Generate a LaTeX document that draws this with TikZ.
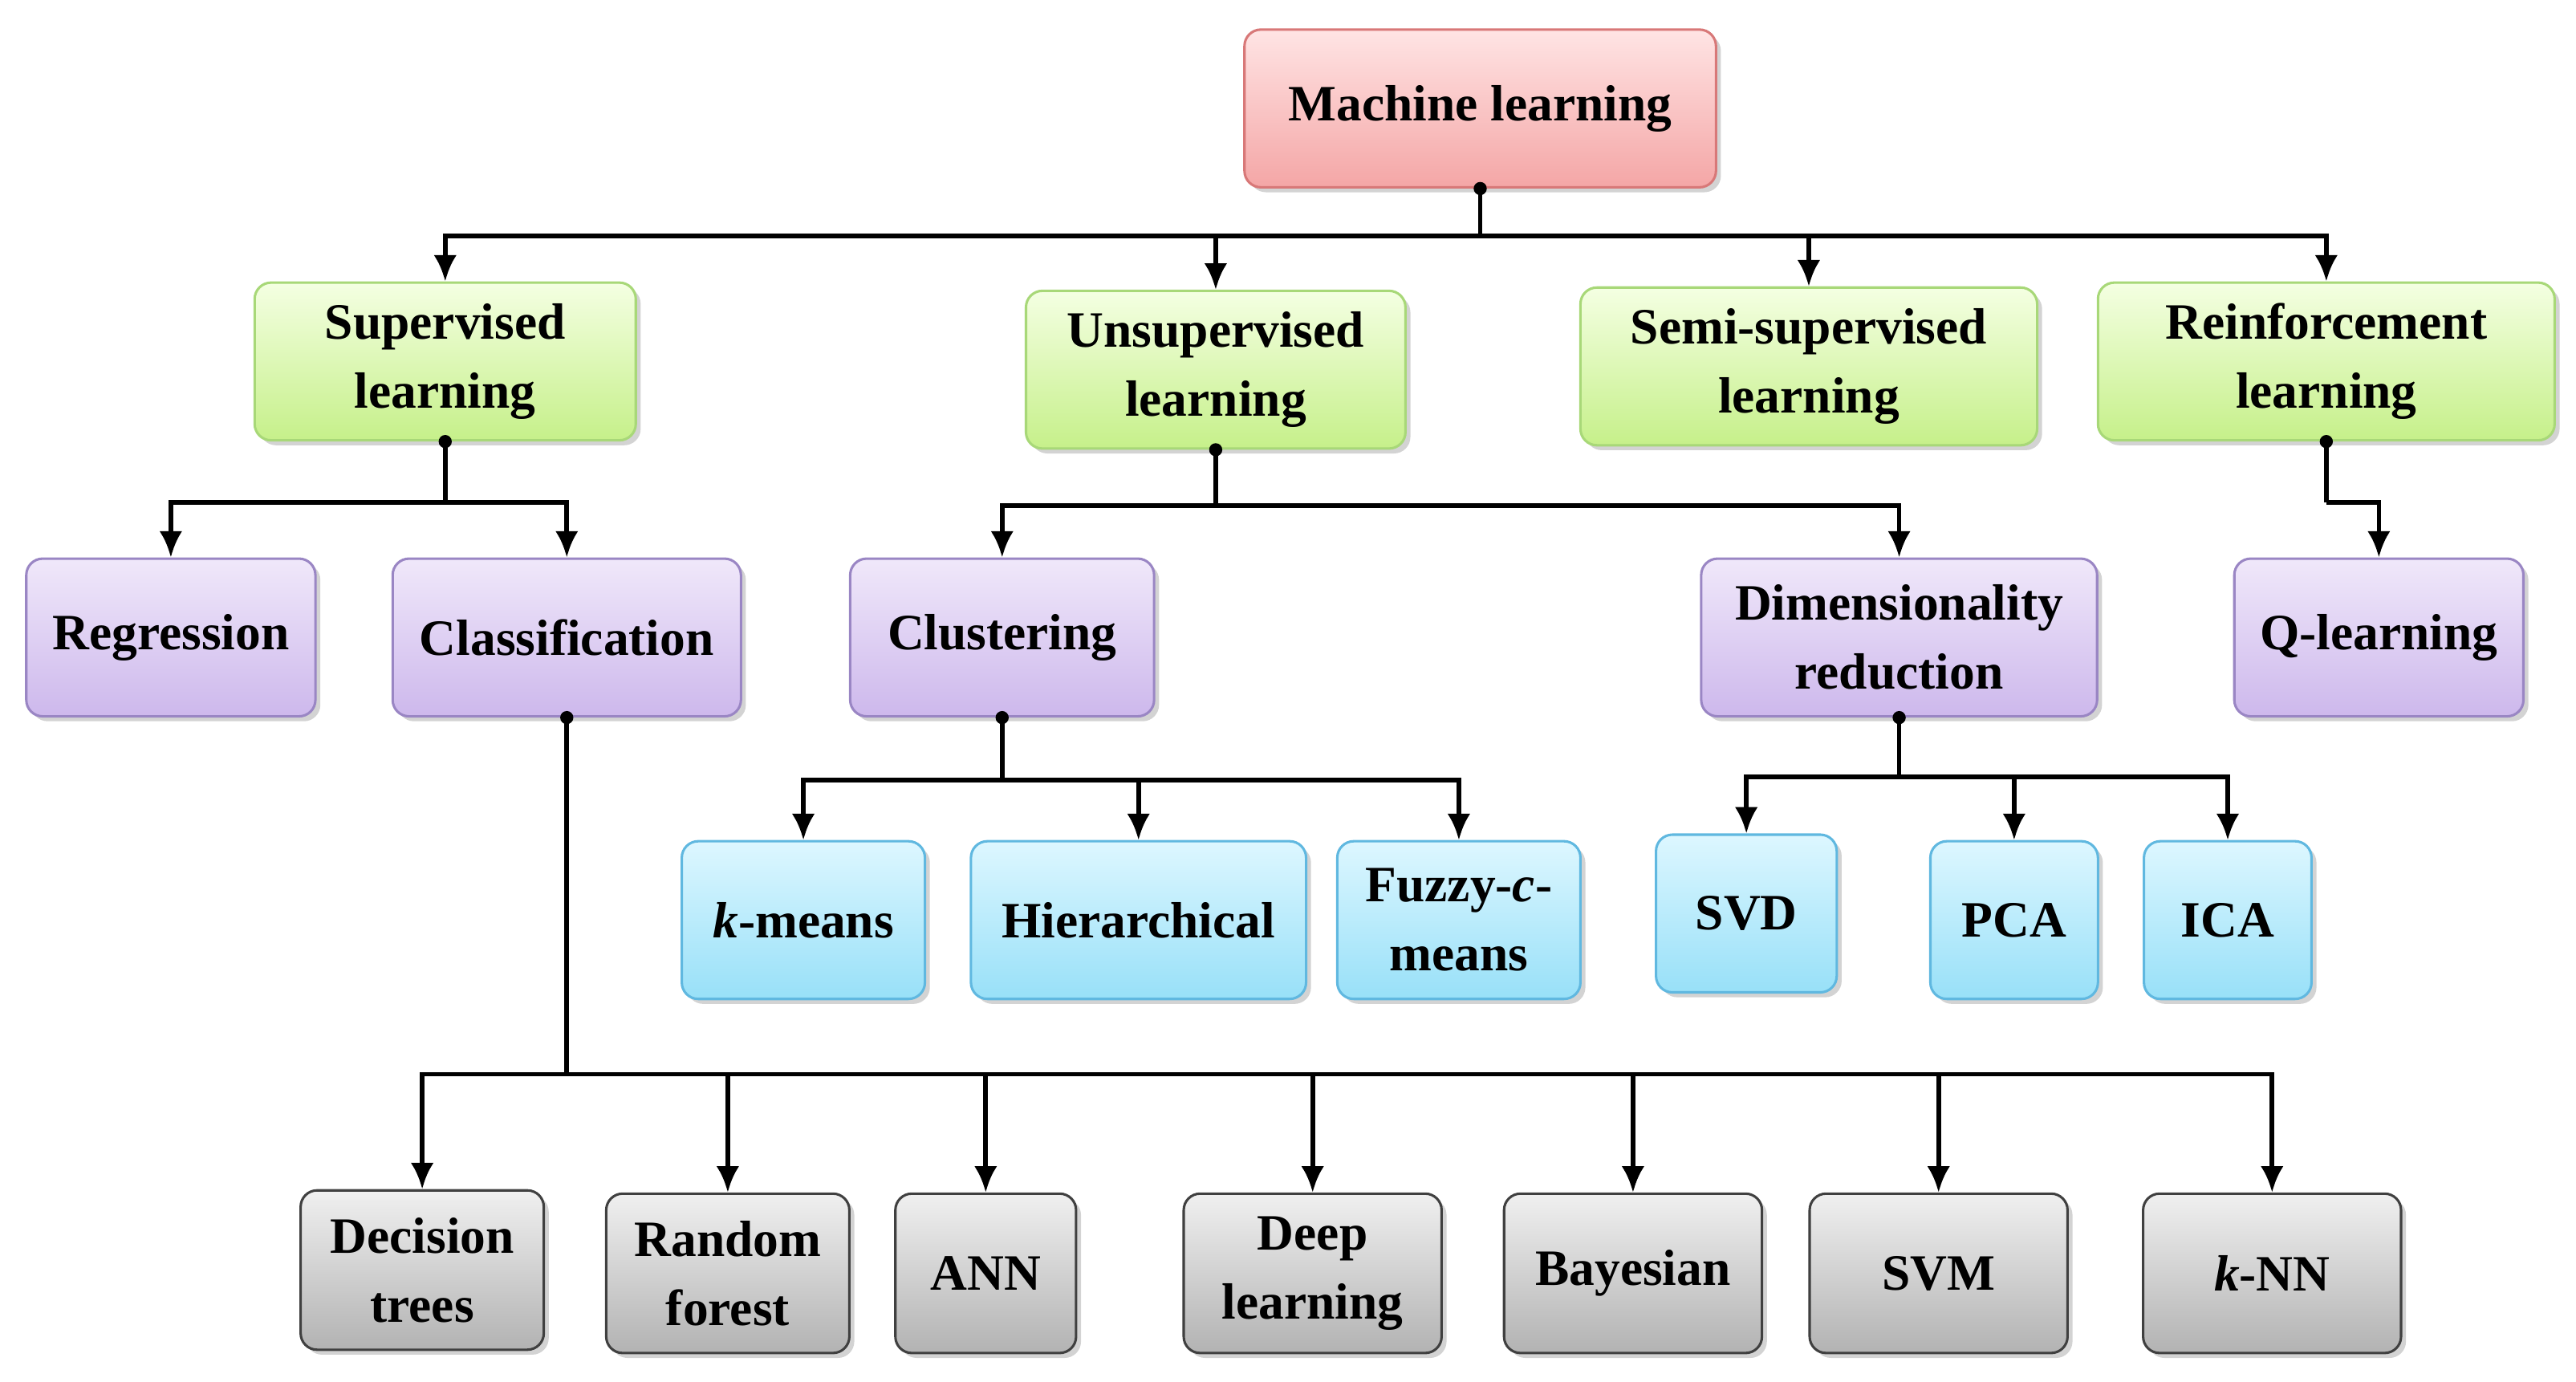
\documentclass[tikz,border=0pt]{standalone}
\usepackage{fontspec}
\setmainfont{Liberation Serif}
\usetikzlibrary{arrows.meta,shadows}
\definecolor{gtop}{HTML}{F4FFE2}\definecolor{gbot}{HTML}{C6F08A}\definecolor{gdr}{HTML}{A8D878}
\definecolor{ptop}{HTML}{F0E8FA}\definecolor{pbot}{HTML}{CDB8EC}\definecolor{pdr}{HTML}{9A86C4}
\definecolor{ctop}{HTML}{DDF7FF}\definecolor{cbot}{HTML}{98E0F8}\definecolor{cdr}{HTML}{60B8E0}
\definecolor{rtop}{HTML}{FFE4E4}\definecolor{rbot}{HTML}{F4A6A6}\definecolor{rdr}{HTML}{D87878}
\begin{document}
\begin{tikzpicture}[x=1pt,y=-1pt,
  box/.style={draw, line width=1.5pt, rounded corners=10pt, align=center,
    font=\fontsize{31}{42}\selectfont\bfseries, inner sep=2pt,
    drop shadow={shadow xshift=3pt,shadow yshift=-3pt,opacity=0.35}},
  red/.style={box, draw=rdr, top color=rtop, bottom color=rbot, minimum height=96pt},
  grn/.style={box, draw=gdr, top color=gtop, bottom color=gbot, minimum height=96pt},
  pur/.style={box, draw=pdr, top color=ptop, bottom color=pbot, minimum height=96pt},
  cya/.style={box, draw=cdr, top color=ctop, bottom color=cbot, minimum height=96pt},
  gry/.style={box, draw=black!75, top color=black!6, bottom color=black!30, minimum height=97pt},
  ln/.style={line width=2.8pt},
  arr/.style={ln, -{Latex[length=16pt,width=14pt]}},
  dot/.style={circle, fill=black, inner sep=0pt, minimum size=8pt}]
\useasboundingbox (0,0) rectangle (1568,841);
\node[red, minimum width=287pt] (ml) at (901,66) {Machine learning};
\node[grn, minimum width=232pt] (sup) at (271,220) {Supervised\\learning};
\node[grn, minimum width=231pt] (uns) at (740,225) {Unsupervised\\learning};
\node[grn, minimum width=278pt] (semi) at (1101,223) {Semi-supervised\\learning};
\node[grn, minimum width=278pt] (rei) at (1416,220) {Reinforcement\\learning};
\node[pur, minimum width=176pt] (reg) at (104,388) {Regression};
\node[pur, minimum width=212pt] (cla) at (345,388) {Classification};
\node[pur, minimum width=185pt] (clu) at (610,388) {Clustering};
\node[pur, minimum width=241pt] (dim) at (1156,388) {Dimensionality\\reduction};
\node[pur, minimum width=176pt] (ql) at (1448,388) {Q-learning};
\node[cya, minimum width=148pt] (km) at (489,560) {\textit{k}-means};
\node[cya, minimum width=204pt] (hie) at (693,560) {Hierarchical};
\node[cya, minimum width=148pt] (fuz) at (888,560) {Fuzzy-\textit{c}-\\means};
\node[cya, minimum width=110pt] (svd) at (1063,556) {SVD};
\node[cya, minimum width=102pt] (pca) at (1226,560) {PCA};
\node[cya, minimum width=102pt] (ica) at (1356,560) {ICA};
\node[gry, minimum width=148pt] (dt) at (257,773) {Decision\\trees};
\node[gry, minimum width=148pt] (rf) at (443,775) {Random\\forest};
\node[gry, minimum width=110pt] (ann) at (600,775) {ANN};
\node[gry, minimum width=157pt] (dl) at (799,775) {Deep\\learning};
\node[gry, minimum width=157pt] (bay) at (994,775) {Bayesian};
\node[gry, minimum width=157pt] (svm) at (1180,775) {SVM};
\node[gry, minimum width=157pt] (knn) at (1383,775) {\textit{k}-NN};
% connectors
\draw[ln] (ml.south) -- ++(0,29) coordinate (b1);
\foreach \t in {sup,uns,semi,rei} \draw[arr] (b1) -| (\t.north);
\draw[ln] (sup.south) -- ++(0,37) coordinate (b2);
\foreach \t in {reg,cla} \draw[arr] (b2) -| (\t.north);
\draw[ln] (uns.south) -- ++(0,34) coordinate (b3);
\foreach \t in {clu,dim} \draw[arr] (b3) -| (\t.north);
\draw[ln] (rei.south) -- ++(0,37) coordinate (b4);
\draw[arr] (b4) -| (ql.north);
\draw[ln] (clu.south) -- ++(0,38) coordinate (b5);
\foreach \t in {km,hie,fuz} \draw[arr] (b5) -| (\t.north);
\draw[ln] (dim.south) -- ++(0,36) coordinate (b6);
\foreach \t in {svd,pca,ica} \draw[arr] (b6) -| (\t.north);
\draw[ln] (cla.south) -- ++(0,217) coordinate (b7);
\foreach \t in {dt,rf,ann,dl,bay,svm,knn} \draw[arr] (b7) -| (\t.north);
\foreach \t in {ml,sup,uns,rei,clu,dim,cla} \node[dot] at (\t.south) {};
\end{tikzpicture}
\end{document}
